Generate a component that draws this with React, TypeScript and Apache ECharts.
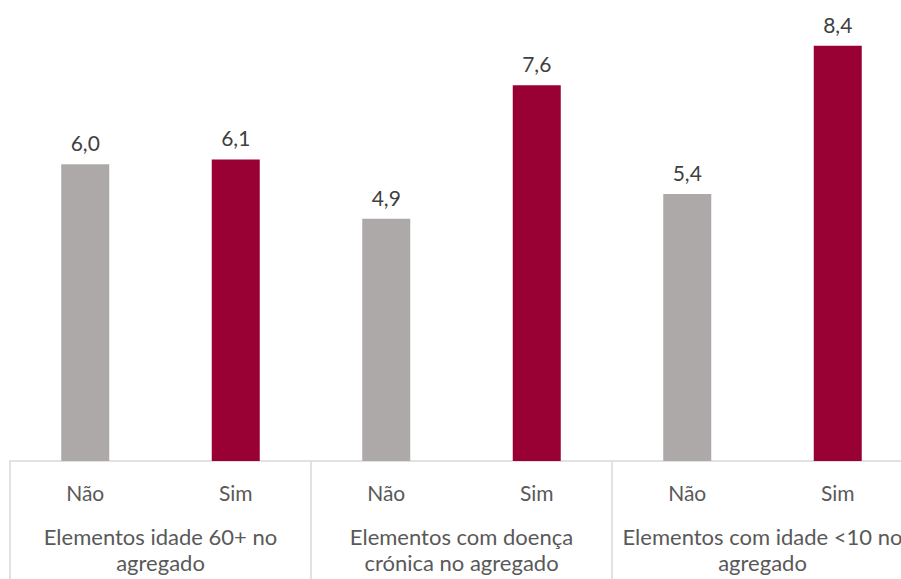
import React, { useEffect, useRef } from "react";
import * as echarts from "echarts";

const answers = ["Não", "Sim", "Não", "Sim", "Não", "Sim"];
const groups = [
  "Elementos idade 60+ no\nagregado",
  "Elementos com doença\ncrónica no agregado",
  "Elementos com idade <10 no\nagregado",
];
const values = [6.0, 6.1, 4.9, 7.6, 5.4, 8.4];
const colors = ["#ADA9A9", "#990033"];

export default function App() {
  const ref = useRef<HTMLDivElement>(null);
  useEffect(() => {
    if (!ref.current) return;
    const chart = echarts.init(ref.current, undefined, { renderer: "svg" });
    const font = "Lato, 'Open Sans', sans-serif";
    chart.setOption({
      animation: false,
      grid: { left: 10, width: 903, top: 16, bottom: 118, containLabel: false },
      xAxis: [
        {
          type: "category",
          data: answers,
          position: "bottom",
          axisLine: { show: true, lineStyle: { color: "#D9D9D9", width: 1.5 } },
          axisTick: { show: false },
          axisLabel: { color: "#595959", fontSize: 21, fontFamily: font, margin: 21, interval: 0 },
        },
        {
          type: "category",
          data: groups,
          position: "bottom",
          axisLine: { show: false },
          axisTick: { show: true, length: 118, interval: 0, lineStyle: { color: "#D9D9D9", width: 1.5 } },
          axisLabel: {
            color: "#595959",
            fontSize: 22,
            fontFamily: font,
            margin: 62,
            lineHeight: 26,
            interval: 0,
            align: "center",
          },
        },
      ],
      yAxis: { type: "value", min: 0, max: 9, show: false, splitLine: { show: false } },
      series: [
        {
          type: "bar",
          xAxisIndex: 0,
          barWidth: 48,
          data: values.map((v, i) => ({ value: v, itemStyle: { color: colors[i % 2] } })),
          label: {
            show: true,
            position: "top",
            distance: 11,
            color: "#404040",
            fontSize: 21,
            fontFamily: font,
            formatter: (p: any) => p.value.toFixed(1).replace(".", ","),
          },
        },
      ],
    });
    return () => chart.dispose();
  }, []);
  return (
    <div style={{ width: 901, height: 579, position: "absolute", left: 0, top: 0, overflow: "hidden" }}>
      <div ref={ref} style={{ width: 930, height: 579 }} />
    </div>
  );
}
